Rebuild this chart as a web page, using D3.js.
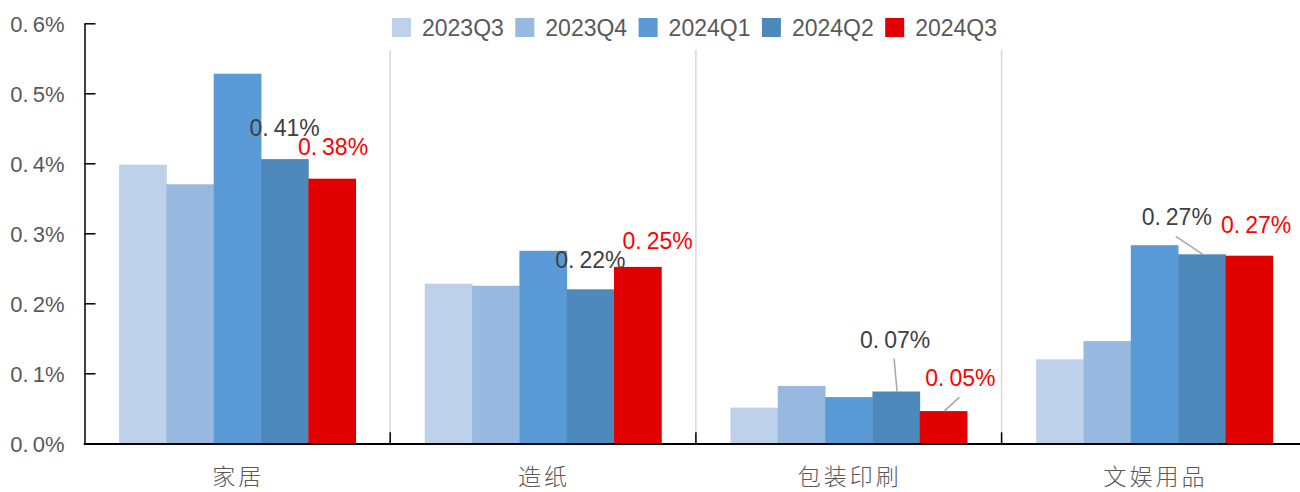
<!DOCTYPE html>
<html>
<head>
<meta charset="utf-8">
<script src="https://cdn.jsdelivr.net/npm/d3@7/dist/d3.min.js"></script>
<style>
  html, body { margin: 0; padding: 0; background: #fff; }
  svg { display: block; }
</style>
</head>
<body>
<svg id="chart" width="1300" height="492"></svg>
<script>
// Industry share by quarter (%)
const categories = ["家居", "造纸", "包装印刷", "文娱用品"];
const seriesNames = ["2023Q3", "2023Q4", "2024Q1", "2024Q2", "2024Q3"];
const v2023Q3 = [0.398, 0.228, 0.051, 0.120];
const v2023Q4 = [0.370, 0.225, 0.082, 0.146];
const v2024Q1 = [0.528, 0.275, 0.066, 0.283];
const v2024Q2 = [0.406, 0.220, 0.074, 0.270];
const v2024Q3 = [0.378, 0.252, 0.046, 0.268];
const yTickValues = [0, 0.1, 0.2, 0.3, 0.4, 0.5, 0.6];
const labelledSeries = ["2024Q2", "2024Q3"];

const seriesValues = [v2023Q3, v2023Q4, v2024Q1, v2024Q2, v2024Q3];
const colors = ["#BDD1EA", "#98B9DF", "#5A9AD6", "#4E89BC", "#E10000"];
const labelColors = { "2024Q2": "#404040", "2024Q3": "#FF0000" };

// Value-label placement: [dx from bar centre, baseline offset from bar top]
const labelShift = {
  "2024Q2": [[0, -23], [0, -21], [-1, -44], [-25, -29]],
  "2024Q3": [[1, -24], [20, -18], [17, -25], [7, -23]]
};
const leaderOn = {
  "2024Q2": [false, false, true, true],
  "2024Q3": [false, false, true, false]
};

const rows = categories.map((c, i) => {
  const r = { category: c };
  seriesNames.forEach((s, j) => { r[s] = seriesValues[j][i]; });
  return r;
});

const svg = d3.select("#chart");
const axisLeftX = 84.5;
const baseY = 443.3;
const topY = 23.3;
const catStep = 305.7;

const y = d3.scaleLinear().domain([0, 0.6]).range([baseY, topY]);
const x0 = d3.scaleBand().domain(categories)
  .range([axisLeftX, axisLeftX + catStep * categories.length])
  .paddingInner(0).paddingOuter(0);
const x1 = d3.scaleBand().domain(seriesNames)
  .range([0, x0.bandwidth()])
  .paddingInner(0).paddingOuter(0.73);
const color = d3.scaleOrdinal().domain(seriesNames).range(colors);

// percent text with the wide gap after the decimal point
function writePct(sel, v, digits, gap) {
  const s = v.toFixed(digits) + "%";
  const k = s.indexOf(".");
  sel.text(null);
  sel.append("tspan").text(s.slice(0, k + 1));
  sel.append("tspan").attr("dx", gap).text(s.slice(k + 1));
}

// category separators
svg.append("g").selectAll("line")
  .data(categories.slice(1))
  .join("line")
  .attr("x1", d => x0(d)).attr("x2", d => x0(d))
  .attr("y1", 50).attr("y2", baseY)
  .attr("stroke", "#D9D9D9").attr("stroke-width", 1.5);

// bars
const groups = svg.append("g").selectAll("g")
  .data(rows)
  .join("g")
  .attr("transform", d => `translate(${x0(d.category)},0)`);

groups.selectAll("rect")
  .data(d => seriesNames.map(s => ({ key: s, value: d[s] })))
  .join("rect")
  .attr("x", d => x1(d.key))
  .attr("y", d => y(d.value))
  .attr("width", x1.bandwidth() + 0.4)
  .attr("height", d => baseY - y(d.value))
  .attr("fill", d => color(d.key));

// y axis
const yAxis = svg.append("g")
  .attr("transform", `translate(${axisLeftX},0)`)
  .call(d3.axisLeft(y).tickValues(yTickValues).tickSize(-11).tickSizeOuter(0).tickPadding(20));
yAxis.select(".domain").attr("stroke", "#000").attr("stroke-width", 1.5);
yAxis.selectAll(".tick line").attr("stroke", "#000").attr("stroke-width", 1.5);
yAxis.selectAll(".tick text")
  .attr("fill", "#595959")
  .style("font-family", "'Liberation Sans', Arial, sans-serif")
  .style("font-size", "22px")
  .attr("dy", "0.36em")
  .each(function (d) { writePct(d3.select(this), d, 1, 4); });

// x axis
const xEnd = 1300;
svg.append("line")
  .attr("x1", axisLeftX - 0.75).attr("x2", xEnd)
  .attr("y1", baseY + 0.7).attr("y2", baseY + 0.7)
  .attr("stroke", "#000").attr("stroke-width", 2);
svg.append("g").selectAll("line")
  .data(categories.slice(1))
  .join("line")
  .attr("x1", d => x0(d)).attr("x2", d => x0(d))
  .attr("y1", baseY - 11).attr("y2", baseY)
  .attr("stroke", "#000").attr("stroke-width", 1.5);

svg.append("g").selectAll("text")
  .data(categories)
  .join("text")
  .attr("x", d => x0(d) + x0.bandwidth() / 2 + 1)
  .attr("y", 485)
  .attr("text-anchor", "middle")
  .attr("fill", "#595959")
  .style("font-family", "'Noto Sans CJK SC', sans-serif")
  .style("font-size", "23px")
  .style("font-weight", "300")
  .style("letter-spacing", "3px")
  .text(d => d);

// value labels with leader lines
labelledSeries.forEach(s => {
  rows.forEach((r, i) => {
    const v = r[s];
    const cx = x0(r.category) + x1(s) + x1.bandwidth() / 2;
    const top = y(v);
    const [dx, dy] = labelShift[s][i];
    const lx = cx + dx;
    const ly = top + dy;
    if (leaderOn[s][i]) {
      svg.append("line")
        .attr("x1", lx - 1).attr("y1", ly + 11)
        .attr("x2", cx + 1).attr("y2", top)
        .attr("stroke", "#A6A6A6").attr("stroke-width", 1.5);
    }
    const t = svg.append("text")
      .attr("x", lx).attr("y", ly)
      .attr("text-anchor", "middle")
      .attr("fill", labelColors[s])
      .style("font-family", "'Liberation Sans', Arial, sans-serif")
      .style("font-size", "23px");
    writePct(t, v, 2, 5);
  });
});

// legend
const legend = svg.append("g").selectAll("g")
  .data(seriesNames)
  .join("g")
  .attr("transform", (d, i) => `translate(${392 + i * 123.3},18)`);
legend.append("rect")
  .attr("width", 19).attr("height", 19)
  .attr("fill", d => color(d));
legend.append("text")
  .attr("x", 30).attr("y", 18)
  .attr("fill", "#595959")
  .style("font-family", "'Liberation Sans', Arial, sans-serif")
  .style("font-size", "23px")
  .text(d => d);
</script>
</body>
</html>
